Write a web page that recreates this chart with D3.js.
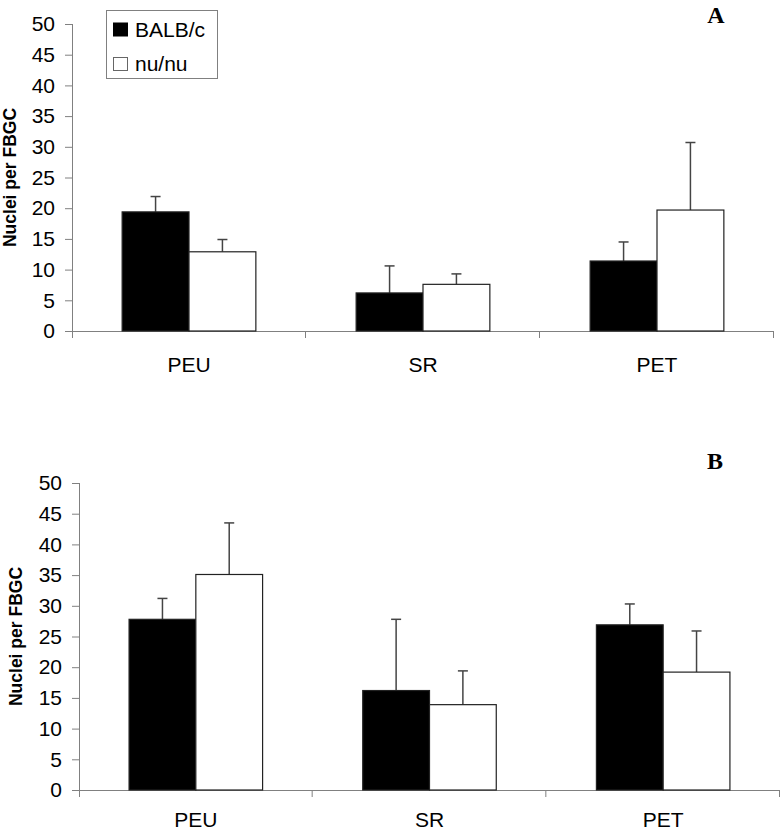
<!DOCTYPE html>
<html>
<head>
<meta charset="utf-8">
<script src="https://cdn.jsdelivr.net/npm/d3@7"></script>
<style>
  html, body { margin: 0; padding: 0; background: #fff; }
  svg { display: block; }
</style>
</head>
<body>
<svg id="chart" width="781" height="831"></svg>
<script>
const categories = ["PEU", "SR", "PET"];
const seriesNames = ["BALB/c", "nu/nu"];
const yTicks = [0, 5, 10, 15, 20, 25, 30, 35, 40, 45, 50];

// Panel A
const aBalb = [19.4, 6.2, 11.4];
const aBalbErr = [2.5, 4.4, 3.1];
const aNu = [12.9, 7.6, 19.7];
const aNuErr = [2.0, 1.7, 11.0];

// Panel B
const bBalb = [27.8, 16.2, 26.9];
const bBalbErr = [3.4, 11.6, 3.4];
const bNu = [35.1, 13.9, 19.2];
const bNuErr = [8.4, 5.5, 6.7];

const panels = [
  { letter: "A", vals: [aBalb, aNu], errs: [aBalbErr, aNuErr],
    x0: 72, x1: 774, yTop: 24, yBot: 331, labelY: 372, letterX: 716, letterY: 23, titleX: 16 },
  { letter: "B", vals: [bBalb, bNu], errs: [bBalbErr, bNuErr],
    x0: 79, x1: 780, yTop: 483, yBot: 790, labelY: 827, letterX: 715, letterY: 469, titleX: 22 }
];

const fills = ["#000000", "#ffffff"];
const svg = d3.select("#chart");
const FONT = "Liberation Sans, Arial, sans-serif";

panels.forEach(p => {
  const g = svg.append("g");
  const x = d3.scaleBand().domain(categories).range([p.x0, p.x1]).paddingInner(0).paddingOuter(0);
  const xi = d3.scaleBand().domain(seriesNames).range([0, x.bandwidth()]).paddingInner(0).paddingOuter(0.75);
  const y = d3.scaleLinear().domain([0, 50]).range([p.yBot, p.yTop]);

  // y axis
  const yAxis = d3.axisLeft(y).tickValues(yTicks).tickSize(7).tickSizeOuter(0).tickPadding(10);
  const ya = g.append("g").attr("transform", `translate(${p.x0},0)`).call(yAxis);
  ya.select(".domain").remove();
  ya.selectAll(".tick line").attr("stroke", "#808080").attr("stroke-width", 1);
  ya.selectAll(".tick text").attr("font-family", FONT).attr("font-size", 21).attr("fill", "#000");
  g.append("line").attr("x1", p.x0 + 0.5).attr("x2", p.x0 + 0.5)
    .attr("y1", y(50)).attr("y2", y(0) + 7).attr("stroke", "#808080");

  // x axis
  g.append("line").attr("x1", p.x0).attr("x2", p.x1)
    .attr("y1", y(0) + 0.5).attr("y2", y(0) + 0.5).attr("stroke", "#808080");
  const bounds = categories.map(c => x(c)).concat([x.range()[1]]);
  g.selectAll(".xt").data(bounds.slice(1)).enter().append("line")
    .attr("x1", d => d - 0.5).attr("x2", d => d - 0.5)
    .attr("y1", y(0)).attr("y2", y(0) + 7).attr("stroke", "#808080");
  g.selectAll(".xl").data(categories).enter().append("text")
    .attr("x", d => x(d) + x.bandwidth() / 2).attr("y", p.labelY)
    .attr("text-anchor", "middle").attr("font-family", FONT).attr("font-size", 21)
    .text(d => d);

  // bars
  seriesNames.forEach((s, si) => {
    const vals = p.vals[si], errs = p.errs[si];
    categories.forEach((c, ci) => {
      const bx = x(c) + xi(s);
      const cx = bx + xi.bandwidth() / 2;
      g.append("line").attr("x1", cx).attr("x2", cx)
        .attr("y1", y(vals[ci])).attr("y2", y(vals[ci] + errs[ci]))
        .attr("stroke", "#444").attr("stroke-width", 1.5);
      g.append("line").attr("x1", cx - 5).attr("x2", cx + 5)
        .attr("y1", y(vals[ci] + errs[ci])).attr("y2", y(vals[ci] + errs[ci]))
        .attr("stroke", "#444").attr("stroke-width", 1.5);
      g.append("rect").attr("x", bx).attr("width", xi.bandwidth())
        .attr("y", y(vals[ci])).attr("height", y(0) - y(vals[ci]))
        .attr("fill", fills[si]).attr("stroke", "#222").attr("stroke-width", 1.2);
    });
  });

  // y title
  const my = (p.yTop + p.yBot) / 2;
  g.append("text").attr("transform", `translate(${p.titleX},${my}) rotate(-90)`)
    .attr("text-anchor", "middle").attr("font-family", FONT).attr("font-weight", "bold")
    .attr("font-size", 17.5).text("Nuclei per FBGC");

  // panel letter
  g.append("text").attr("x", p.letterX).attr("y", p.letterY).attr("text-anchor", "middle")
    .attr("font-family", "Liberation Serif, Times New Roman, serif").attr("font-weight", "bold")
    .attr("font-size", 24).text(p.letter);
});

// legend (panel A)
const lg = svg.append("g");
lg.append("rect").attr("x", 106.5).attr("y", 10.5).attr("width", 111).attr("height", 68)
  .attr("fill", "#fff").attr("stroke", "#808080");
const legendRows = [36.5, 71];
seriesNames.forEach((s, i) => {
  lg.append("rect").attr("x", 113.5).attr("y", legendRows[i] - 13.5).attr("width", 14).attr("height", 13)
    .attr("fill", fills[i]).attr("stroke", i === 0 ? "#000" : "#666");
  lg.append("text").attr("x", 135).attr("y", legendRows[i]).attr("font-family", FONT)
    .attr("font-size", 21).text(s);
});
</script>
</body>
</html>
